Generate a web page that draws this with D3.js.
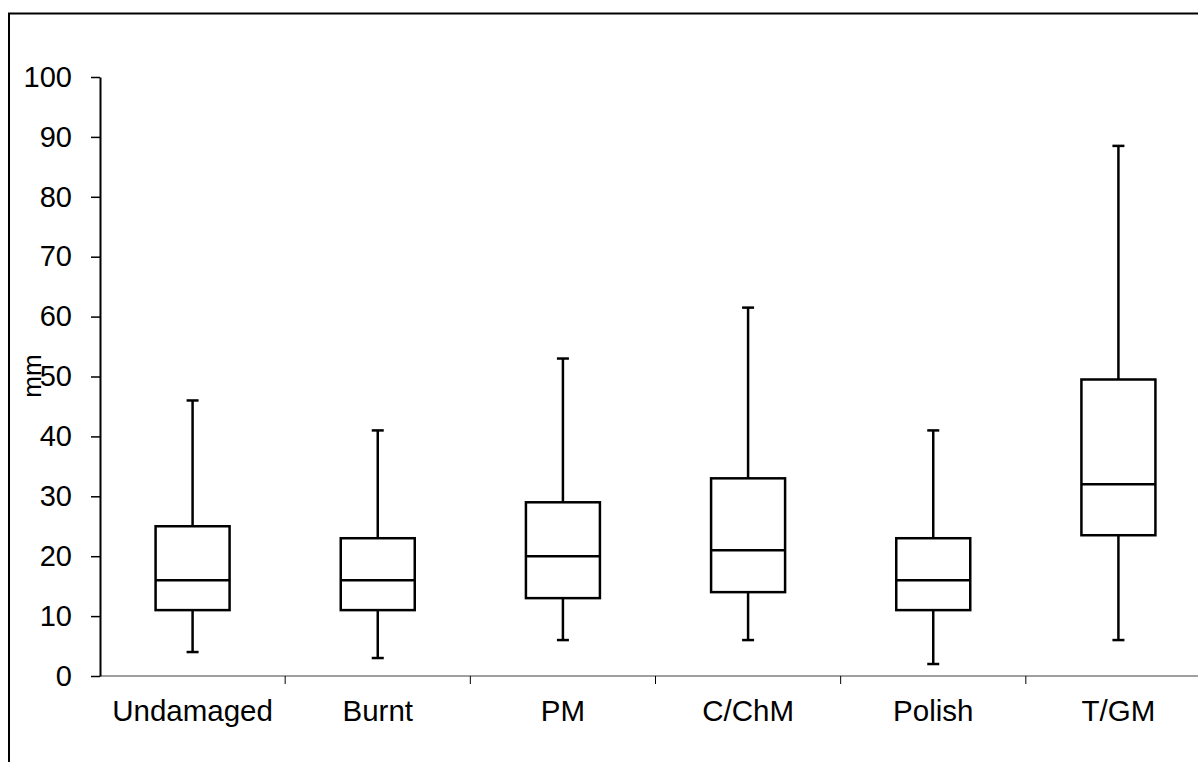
<!DOCTYPE html>
<html>
<head>
<meta charset="utf-8">
<script src="https://cdn.jsdelivr.net/npm/d3@7"></script>
<style>
  html, body { margin: 0; padding: 0; background: #fff; overflow: hidden; }
  svg { display: block; font-family: "Liberation Sans", Arial, sans-serif; }
</style>
</head>
<body>
<svg id="chart" width="1198" height="762"></svg>
<script>
const categories = ['Undamaged', 'Burnt', 'PM', 'C/ChM', 'Polish', 'T/GM'];
const mins    = [4, 3, 6, 6, 2, 6];
const q1s     = [11, 11, 13, 14, 11, 23.5];
const medians = [16, 16, 20, 21, 16, 32];
const q3s     = [25, 23, 29, 33, 23, 49.5];
const maxs    = [46, 41, 53, 61.5, 41, 88.5];
const yTicks  = [0, 10, 20, 30, 40, 50, 60, 70, 80, 90, 100];

const rows = categories.map((c, i) => ({
    cat: c, min: mins[i], q1: q1s[i], med: medians[i], q3: q3s[i], max: maxs[i]
}));

const svg = d3.select('#chart');

// outer frame
svg.append('rect')
    .attr('x', 9).attr('y', 13.5)
    .attr('width', 1200).attr('height', 760)
    .attr('fill', 'none').attr('stroke', '#000').attr('stroke-width', 2);

const plotL = 100, plotR = 1211, plotT = 77, plotB = 676;
const fs = 29;

const x = d3.scaleBand().domain(categories).range([plotL, plotR]);
const y = d3.scaleLinear().domain([0, 100]).range([plotB, plotT]);

// x axis (grey line, ticks at band edges)
const xg = svg.append('g');
xg.append('line')
    .attr('x1', plotL).attr('x2', plotR)
    .attr('y1', plotB).attr('y2', plotB)
    .attr('stroke', '#808080').attr('stroke-width', 1.5);
xg.selectAll('line.tk')
    .data(categories.slice(1))
    .enter().append('line')
    .attr('class', 'tk')
    .attr('x1', d => x(d)).attr('x2', d => x(d))
    .attr('y1', plotB).attr('y2', plotB + 8)
    .attr('stroke', '#000').attr('stroke-width', 1);
xg.selectAll('text')
    .data(categories)
    .enter().append('text')
    .attr('x', d => x(d) + x.bandwidth() / 2)
    .attr('y', 721)
    .attr('text-anchor', 'middle')
    .attr('font-size', 29.5)
    .text(d => d);

// y axis
const yAxis = d3.axisLeft(y).tickValues(yTicks).tickSize(9).tickPadding(19).tickSizeOuter(0);
const yg = svg.append('g')
    .attr('transform', `translate(${plotL},0)`)
    .call(yAxis);
yg.select('.domain').attr('stroke', '#000').attr('stroke-width', 2);
yg.selectAll('.tick line').attr('stroke', '#000').attr('stroke-width', 1.5);
yg.selectAll('.tick text')
    .attr('font-size', fs)
    .attr('fill', '#000')
    .attr('font-family', '"Liberation Sans", Arial, sans-serif');

svg.append('text')
    .attr('transform', `translate(41,376) rotate(-90)`)
    .attr('text-anchor', 'middle')
    .attr('font-size', 26)
    .text('mm');

// boxes
const boxW = 74, capW = 12;
const g = svg.append('g')
    .selectAll('g')
    .data(rows)
    .enter().append('g')
    .attr('transform', d => `translate(${x(d.cat) + x.bandwidth() / 2},0)`)
    .attr('stroke', '#000')
    .attr('stroke-width', 2.5)
    .attr('fill', 'none');

g.append('line')
    .attr('x1', 0).attr('x2', 0)
    .attr('y1', d => y(d.max)).attr('y2', d => y(d.q3));
g.append('line')
    .attr('x1', 0).attr('x2', 0)
    .attr('y1', d => y(d.q1)).attr('y2', d => y(d.min));
g.append('line')
    .attr('x1', -capW / 2).attr('x2', capW / 2)
    .attr('y1', d => y(d.max)).attr('y2', d => y(d.max));
g.append('line')
    .attr('x1', -capW / 2).attr('x2', capW / 2)
    .attr('y1', d => y(d.min)).attr('y2', d => y(d.min));
g.append('rect')
    .attr('x', -boxW / 2).attr('width', boxW)
    .attr('y', d => y(d.q3))
    .attr('height', d => y(d.q1) - y(d.q3))
    .attr('fill', '#fff');
g.append('line')
    .attr('x1', -boxW / 2).attr('x2', boxW / 2)
    .attr('y1', d => y(d.med)).attr('y2', d => y(d.med));
</script>
</body>
</html>
